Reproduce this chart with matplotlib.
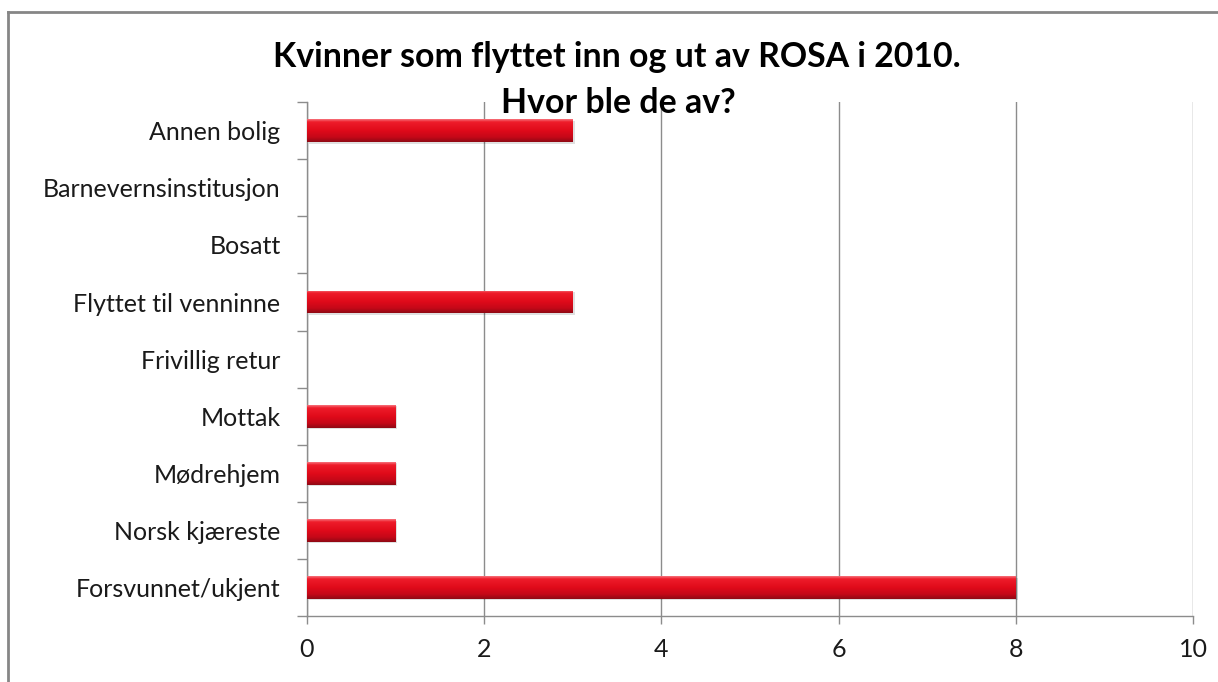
import matplotlib.pyplot as plt
import numpy as np
from matplotlib.colors import LinearSegmentedColormap
from matplotlib.lines import Line2D

categories = ["Annen bolig", "Barnevernsinstitusjon", "Bosatt",
              "Flyttet til venninne", "Frivillig retur", "Mottak",
              "Mødrehjem", "Norsk kjæreste", "Forsvunnet/ukjent"]
values = [3, 0, 0, 3, 0, 1, 1, 1, 8]
x_ticks = [0, 2, 4, 6, 8, 10]

plt.rcParams['font.family'] = ['Lato', 'DejaVu Sans']

fig = plt.figure(figsize=(12.18, 6.82), dpi=100)
ax = fig.add_axes([0.252, 0.097, 0.7275, 0.753])

grey = '#8c8c8c'
y = np.arange(len(categories))
bar_h = 0.4
bars = ax.barh(y, values, height=bar_h, color='#dc0c1c', zorder=3)

# vertical shading on every bar, clipped to the bar
red_cmap = LinearSegmentedColormap.from_list(
    'red', [(0, '#f7707a'), (0.12, '#ee1c2a'), (0.5, '#e00a1a'),
            (0.8, '#c40818'), (1, '#900a14')])
grad = np.linspace(0, 1, 64).reshape(-1, 1)
for b, v, yy in zip(bars, values, y):
    if v <= 0:
        continue
    im = ax.imshow(grad, cmap=red_cmap, aspect='auto', zorder=4,
                   extent=(0, v, yy + bar_h / 2, yy - bar_h / 2))
    im.set_clip_path(b)
    # soft shadow below bar
    ax.barh(yy + 0.03, v, height=bar_h, left=0.02, color='#000000',
            alpha=0.12, zorder=2)

ax.set_xlim(0, 10)
ax.set_ylim(len(categories) - 0.5, -0.5)
ax.set_xticks(x_ticks)
ax.set_yticks(y)
ax.set_yticklabels(categories)
ax.set_yticks(np.arange(len(categories) + 1) - 0.5, minor=True)
ax.tick_params(axis='y', which='major', length=0, pad=19, labelsize=18,
               labelcolor='#1a1a1a')
ax.tick_params(axis='y', which='minor', length=7, color=grey, width=1)
ax.tick_params(axis='x', length=6, color=grey, width=1, pad=10,
               labelsize=18, labelcolor='#1a1a1a')
ax.grid(axis='x', color=grey, linewidth=1, zorder=0)
ax.set_axisbelow(True)
for s in ['top', 'right']:
    ax.spines[s].set_visible(False)
for s in ['left', 'bottom']:
    ax.spines[s].set_color(grey)
    ax.spines[s].set_linewidth(1)

fig.text(617 / 1218, 1 - 67 / 682, "Kvinner som flyttet inn og ut av ROSA i 2010.",
         ha='center', va='baseline', fontsize=24.4, fontweight='bold')
fig.text(618 / 1218, 1 - 113 / 682, "Hvor ble de av?",
         ha='center', va='baseline', fontsize=24.4, fontweight='bold')

# outer chart border (left and top visible)
fig.add_artist(Line2D([8 / 1218, 8 / 1218], [0, 1 - 12 / 682],
                      transform=fig.transFigure, color='#868686', linewidth=2))
fig.add_artist(Line2D([8 / 1218, 1], [1 - 12 / 682, 1 - 12 / 682],
                      transform=fig.transFigure, color='#868686', linewidth=2))

fig.savefig('out.png', dpi=100)
